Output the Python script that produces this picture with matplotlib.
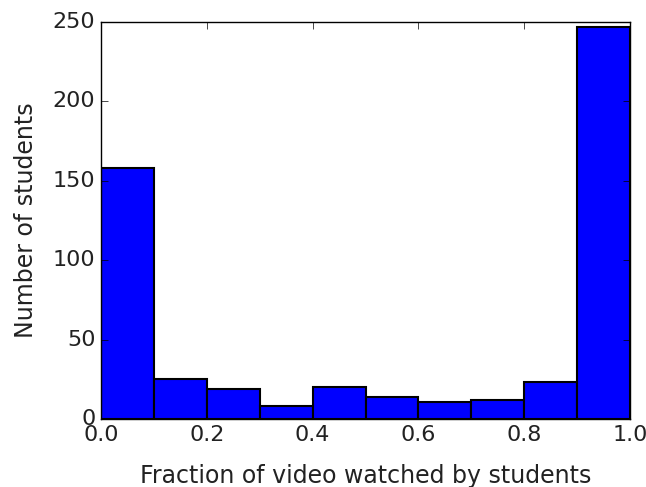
import matplotlib
matplotlib.use("Agg")
import matplotlib.pyplot as plt
import numpy as np

# Histogram of fraction watched, 10 equal bins on [0, 1]
bin_edges = [0.0, 0.1, 0.2, 0.3, 0.4, 0.5, 0.6, 0.7, 0.8, 0.9, 1.0]
counts = [158, 25, 19, 8, 20, 14, 11, 12, 23, 247]

plt.style.use('classic')
fig = plt.figure(figsize=(6.46, 4.87), dpi=100, facecolor='white')
ax = fig.add_axes([101 / 646, 1 - 419 / 487, 529 / 646, 397 / 487])

lefts = np.array(bin_edges[:-1])
widths = np.diff(bin_edges)
ax.bar(lefts, counts, width=widths, align='edge', color='b', edgecolor='k', linewidth=1.5)

ax.set_xlim(0, 1)
ax.set_ylim(0, 250)
ax.set_xlabel("Fraction of video watched by students", fontsize=17, color='#222222', labelpad=14)
ax.set_ylabel("Number of students", fontsize=17, color='#222222', labelpad=11)
ax.tick_params(labelsize=16, labelcolor='#222222', length=5)

fig.savefig("out.png", dpi=100, facecolor='white')
